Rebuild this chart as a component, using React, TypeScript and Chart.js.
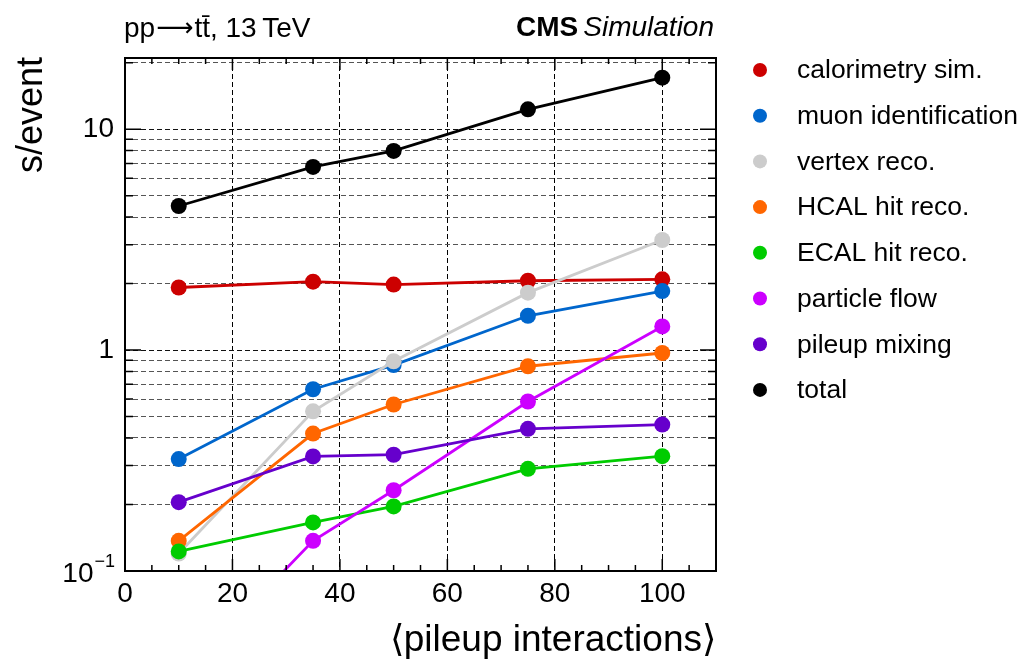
import React, { useEffect, useRef } from 'react';
import { Chart, registerables } from 'chart.js';
Chart.register(...registerables);

// ---- data ----
const pileup = [10, 35, 50, 75, 100];
const seriesLabels = [
  'calorimetry sim.',
  'muon identification',
  'vertex reco.',
  'HCAL hit reco.',
  'ECAL hit reco.',
  'particle flow',
  'pileup mixing',
  'total',
];
const seriesColors = ['#cc0000', '#0066cc', '#cccccc', '#ff6600', '#00cc00', '#cc00ff', '#6600cc', '#000000'];
const calorimetrySim = [1.92, 2.04, 1.98, 2.06, 2.09];
const muonIdentification = [0.321, 0.665, 0.855, 1.43, 1.85];
const vertexReco = [0.12, 0.528, 0.89, 1.82, 3.15];
const hcalHitReco = [0.137, 0.419, 0.567, 0.845, 0.97];
const ecalHitReco = [0.1226, 0.166, 0.196, 0.29, 0.331];
const particleFlow = [0.032, 0.137, 0.232, 0.585, 1.28];
const pileupMixing = [0.205, 0.33, 0.336, 0.44, 0.46];
const total = [4.49, 6.75, 7.97, 12.3, 17.1];
const seriesValues = [calorimetrySim, muonIdentification, vertexReco, hcalHitReco, ecalHitReco, particleFlow, pileupMixing, total];

const xTickValues = [0, 20, 40, 60, 80, 100];
const xMinorTickValues = [5, 10, 15, 25, 30, 35, 45, 50, 55, 65, 70, 75, 85, 90, 95, 105];
const yGridValues = [0.1, 0.2, 0.3, 0.4, 0.5, 0.6, 0.7, 0.8, 0.9, 1, 2, 3, 4, 5, 6, 7, 8, 9, 10, 20];
const yMajorValues = [0.1, 1, 10];
const yTickLabels = ['', '1', '10'];
const yLowBase = '10';
const yLowExp = '\u22121';
const xTitle = '\u27E8pileup interactions\u27E9';
const yTitle = 's/event';
const processParts = ['pp', '\u27F6', 'tt\u0304, 13\u2009TeV'];

const FONT = "'Liberation Sans', Arial, Helvetica, sans-serif";

const decorPlugin = {
  id: 'decor',
  afterDraw(chart: any) {
    const { ctx, chartArea } = chart;
    const xs = chart.scales.x;
    const ys = chart.scales.y;
    const { left, right, top, bottom } = chartArea;
    ctx.save();
    // inner ticks
    ctx.strokeStyle = '#000';
    ctx.lineWidth = 1.5;
    ctx.beginPath();
    const xt = (v: number, len: number) => {
      const px = xs.getPixelForValue(v);
      ctx.moveTo(px, bottom); ctx.lineTo(px, bottom - len);
      ctx.moveTo(px, top); ctx.lineTo(px, top + len);
    };
    xTickValues.forEach((v) => xt(v, 12));
    xMinorTickValues.forEach((v) => xt(v, 6));
    const yt = (v: number, len: number) => {
      const py = ys.getPixelForValue(v);
      ctx.moveTo(left, py); ctx.lineTo(left + len, py);
      ctx.moveTo(right, py); ctx.lineTo(right - len, py);
    };
    yGridValues.forEach((v) => yt(v, yMajorValues.includes(v) ? 16 : 8));
    ctx.stroke();
    // frame
    ctx.lineWidth = 2;
    ctx.strokeRect(left, top, right - left, bottom - top);

    // lowest y label 10^-1
    ctx.fillStyle = '#000';
    ctx.textBaseline = 'middle';
    ctx.textAlign = 'right';
    const py = ys.getPixelForValue(yMajorValues[0]);
    ctx.font = `18px ${FONT}`;
    const expW = ctx.measureText(yLowExp).width;
    ctx.fillText(yLowExp, left - 10, py - 9);
    ctx.font = `28px ${FONT}`;
    ctx.fillText(yLowBase, left - 10 - expW - 1, py + 3);

    // legend
    ctx.textBaseline = 'middle';
    ctx.textAlign = 'left';
    ctx.font = `26.5px ${FONT}`;
    seriesLabels.forEach((lab, i) => {
      const cy = 70 + i * 45.7;
      ctx.fillStyle = seriesColors[i];
      ctx.beginPath();
      ctx.arc(760, cy, 7, 0, Math.PI * 2);
      ctx.fill();
      ctx.fillStyle = '#000';
      ctx.fillText(lab, 797, cy + 1);
    });

    // top texts
    ctx.textBaseline = 'alphabetic';
    ctx.fillStyle = '#000';
    ctx.textAlign = 'left';
    ctx.font = `28px ${FONT}`;
    let tx = 124;
    ctx.fillText(processParts[0], tx, 37);
    tx += ctx.measureText(processParts[0]).width + 1;
    ctx.font = `26px 'DejaVu Sans', ${FONT}`;
    ctx.fillText(processParts[1], tx, 36);
    tx += ctx.measureText(processParts[1]).width + 1;
    ctx.font = `28px ${FONT}`;
    ctx.fillText(processParts[2], tx, 37);

    ctx.textAlign = 'right';
    ctx.font = `italic 28px ${FONT}`;
    const simW = ctx.measureText('Simulation').width;
    ctx.fillText('Simulation', 714, 36);
    ctx.font = `bold 28px ${FONT}`;
    ctx.fillText('CMS', 714 - simW - 5, 36);

    // axis titles
    ctx.font = `37px ${FONT}`;
    ctx.textAlign = 'right';
    ctx.fillText(xTitle, right, 651);

    ctx.save();
    ctx.font = `36px ${FONT}`;
    ctx.translate(42, top - 1);
    ctx.rotate(-Math.PI / 2);
    ctx.textAlign = 'right';
    ctx.fillText(yTitle, 0, 0);
    ctx.restore();

    ctx.restore();
  },
};

export default function App() {
  const ref = useRef<HTMLCanvasElement>(null);
  useEffect(() => {
    document.body.style.margin = '0';
    const datasets = seriesLabels.map((label, i) => ({
      label,
      data: pileup.map((x, j) => ({ x, y: seriesValues[i][j] })),
      borderColor: seriesColors[i],
      backgroundColor: seriesColors[i],
      borderWidth: 2.8,
      pointRadius: 8,
      pointBorderWidth: 0,
      pointHoverRadius: 8,
      showLine: true,
      tension: 0,
      order: seriesLabels.length - i,
    }));
    const chart = new Chart(ref.current!, {
      type: 'scatter',
      data: { datasets },
      options: {
        animation: false,
        responsive: false,
        devicePixelRatio: 1,
        events: [],
        layout: { padding: { top: 58, right: 306, left: 0, bottom: 0 } },
        plugins: { legend: { display: false }, tooltip: { enabled: false } },
        scales: {
          x: {
            type: 'linear',
            min: 0,
            max: 110,
            afterBuildTicks: (scale: any) => {
              scale.ticks = xTickValues.map((v) => ({ value: v }));
            },
            afterFit: (scale: any) => {
              scale.height = 91;
            },
            ticks: {
              color: '#000',
              font: { family: FONT, size: 28 },
              padding: 6,
              maxRotation: 0,
              autoSkip: false,
              callback: (v: any) => String(v),
            },
            grid: {
              color: (c: any) => (c.tick && c.tick.value === 0 ? 'rgba(0,0,0,0)' : '#000'),
              lineWidth: 1,
              drawTicks: false,
            },
            border: { display: false, dash: [5, 3] },
          },
          y: {
            type: 'logarithmic',
            min: 0.1,
            max: 21,
            afterBuildTicks: (scale: any) => {
              scale.ticks = yGridValues.map((v) => ({ value: v }));
            },
            afterFit: (scale: any) => {
              scale.width = 125;
            },
            ticks: {
              color: '#000',
              font: { family: FONT, size: 28 },
              padding: 11,
              autoSkip: false,
              callback: (v: any) => {
                const k = yMajorValues.indexOf(Number(v));
                return k >= 0 ? yTickLabels[k] : '';
              },
            },
            grid: {
              color: (c: any) => {
                const v = c.tick ? c.tick.value : 0;
                if (v === 0.1) return 'rgba(0,0,0,0)';
                return yMajorValues.includes(v) ? '#111' : '#555';
              },
              lineWidth: 1,
              drawTicks: false,
            },
            border: { display: false, dash: [5, 3] },
          },
        },
      },
      plugins: [decorPlugin],
    } as any);
    return () => chart.destroy();
  }, []);
  return (
    <div style={{ width: 1022, height: 662 }}>
      <canvas ref={ref} width={1022} height={662} />
    </div>
  );
}
